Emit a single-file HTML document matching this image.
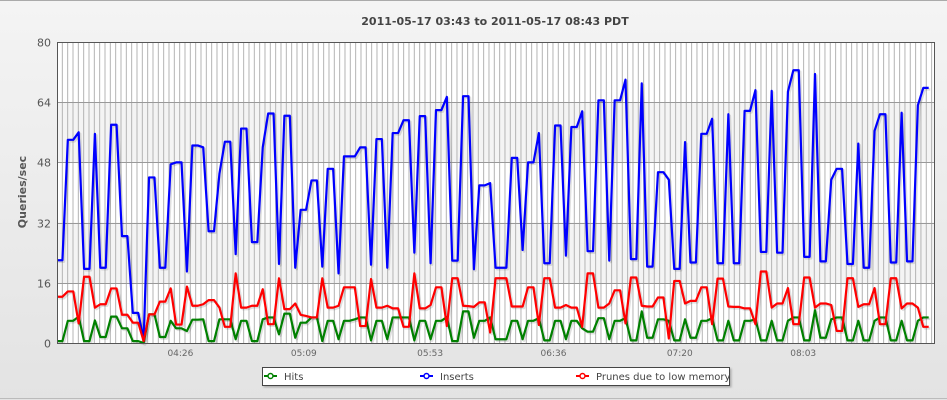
<!DOCTYPE html>
<html><head><meta charset="utf-8"><style>
html,body{margin:0;padding:0;}
body{width:947px;height:400px;overflow:hidden;background:linear-gradient(#f4f4f4,#e3e3e3);font-family:"DejaVu Sans","Liberation Sans",sans-serif;}
svg{position:absolute;left:0;top:0;}
</style></head><body>
<svg id="chart" width="947" height="400" xmlns="http://www.w3.org/2000/svg">
<defs><filter id="sh" x="-5%" y="-5%" width="110%" height="120%"><feDropShadow dx="1.5" dy="1.5" stdDeviation="1" flood-color="#000" flood-opacity="0.25"/></filter></defs>
<line x1="0" y1="0.5" x2="947" y2="0.5" stroke="#aaa"/>
<line x1="0" y1="398.5" x2="947" y2="398.5" stroke="#bbb"/>
<text x="495" y="25" text-anchor="middle" font-size="11" font-weight="bold" fill="#444">2011-05-17 03:43 to 2011-05-17 08:43 PDT</text>
<text transform="translate(26,192) rotate(-90)" text-anchor="middle" font-size="11" font-weight="bold" fill="#555">Queries/sec</text>
<g id="bands"></g><g id="vgrid"></g><g id="hgrid"></g><g id="ylabels"></g><g id="xlabels"></g><g id="series"></g>
<rect x="57.5" y="42.5" width="877" height="301" fill="none" stroke="#555"/>
<g>
<rect x="262.5" y="367.5" width="467" height="18" fill="#fff" stroke="#444" filter="url(#sh)"/>
<g><line x1="264" y1="376" x2="277" y2="376" stroke="#008000" stroke-width="2"/><circle cx="270.5" cy="376" r="2.5" fill="#fff" stroke="#008000" stroke-width="1.5"/><text x="284" y="380" font-size="10" fill="#444">Hits</text></g>
<g><line x1="420" y1="376" x2="433" y2="376" stroke="#0000ff" stroke-width="2"/><circle cx="426.5" cy="376" r="2.5" fill="#fff" stroke="#0000ff" stroke-width="1.5"/><text x="440" y="380" font-size="10" fill="#444">Inserts</text></g>
<g><line x1="576" y1="376" x2="589" y2="376" stroke="#ff0000" stroke-width="2"/><circle cx="582.5" cy="376" r="2.5" fill="#fff" stroke="#ff0000" stroke-width="1.5"/><text x="596" y="380" font-size="10" fill="#444">Prunes due to low memory</text></g>
</g>
</svg>
<script>
const yTicks=[0,16,32,48,64,80];
const xTickLabels=["04:26","05:09","05:53","06:36","07:20","08:03"];
const xTickMinutes=[43,86,130,173,217,260];
const inserts=[22,22,54,54,56,19.7,19.7,55.6,20,20,58,58,28.4,28.4,8,8,1,44,44,20,20,47.5,48,48,19,52.5,52.5,
52,29.7,29.7,45,53.5,53.5,23.6,57,57,26.8,26.8,52,61,61,21,60.4,60.4,20,35.4,35.4,43.2,43.2,20.3,46.3,46.3,18.5,49.6,49.6,
49.6,52,52,20.8,54.2,54.2,20,55.8,55.8,59.2,59.2,24,60.3,60.3,21.2,61.9,61.9,65.4,21.9,21.9,65.6,65.6,19.6,41.9,41.9,42.5,20,
20,20,49.2,49.2,24.7,48,48,55.8,21.2,21.2,57.8,57.8,23.2,57.4,57.4,61.6,24.4,24.4,64.5,64.5,21.9,64.5,64.5,70,22.3,22.3,69,
20.3,20.3,45.4,45.4,43.4,19.7,19.7,53.4,21.4,21.4,55.6,55.6,59.6,21.2,21.2,60.8,21.2,21.2,61.7,61.7,67.2,24.2,24.2,67,24,24,
66.8,72.5,72.5,22.9,22.9,71.5,21.7,21.7,43.4,46.3,46.3,21,21,53,20,20,56.4,60.8,60.8,21.4,21.4,61.2,21.7,21.7,63.2,67.8,67.8];
const prunes=[12.3,12.3,13.7,13.7,5.2,17.6,17.6,9.4,10.3,10.3,14.5,14.5,7.5,7.5,5.4,5.4,0.5,7.6,7.6,11,11,14.5,4.9,4.9,15,9.9,9.9,
10.3,11.4,11.4,9.4,4.3,4.3,18.5,9.4,9.4,9.9,9.9,14.3,5,5,17.2,9,9,10.5,7.5,7.2,6.8,6.8,17.2,9.4,9.4,9.9,14.8,14.8,
14.8,4.5,4.5,17,9.4,9.4,9.9,9.2,9.2,4.3,4.3,18.5,9.2,9.2,10.1,14.8,14.8,4.5,17.2,17.2,9.9,9.8,9.6,10.8,10.8,2.8,17.2,
17.2,17.2,9.7,9.7,9.7,14.8,14.8,4.8,17.2,17.2,9.4,9.4,10.1,9.4,9.4,4.3,18.5,18.5,9.4,9.4,10.5,14,14,5.2,17.4,17.4,9.9,
9.7,9.7,12.1,12.1,1.2,16.5,16.5,10.5,11.2,11.2,14.8,14.8,5,17.1,17.1,9.7,9.6,9.6,9.2,9.2,5,19,19,9.4,10.5,10.5,
14.6,5,5,17.4,17.4,9.4,10.5,10.5,10.1,3.2,3.2,17.2,17.2,9.6,10.3,10.3,14.6,5,5,17.2,17.2,9.2,10.5,10.5,9.4,4.3,4.3];
const hits=[0.5,0.5,5.9,5.9,7,0.5,0.5,6,1.6,1.6,7,7,3.9,3.9,0.5,0.5,0,7.6,7.6,1.6,1.6,5.9,3.9,3.9,3.2,6.2,6.2,
6.3,0.5,0.5,6.3,6.3,6.3,1,5.9,5.9,0.5,0.5,6.3,6.8,6.8,2.3,7.8,7.8,1.4,5.4,5.4,6.8,6.8,0.5,5.9,5.9,1,5.9,5.9,
6.3,6.8,6.8,0.7,5.9,5.9,1,6.8,6.8,6.8,6.8,0.7,5.9,5.9,1,5.9,5.9,6.9,0.5,0.5,8.4,8.4,1.4,5.9,5.9,6.8,1,
1,1,5.9,5.9,1,5.9,5.9,6.6,0.7,0.7,5.9,5.9,1,5.9,5.9,3.9,3,3,6.6,6.6,1,5.9,5.9,6.6,0.7,0.7,8.4,
1.4,1.4,6.3,6.3,5.9,0.7,0.7,6.3,1.4,1.4,5.9,5.9,6.6,0.7,0.7,5.9,0.7,0.7,5.9,5.9,6.3,0.7,0.7,5.9,0.7,0.7,
5.9,6.8,6.8,0.7,0.7,8.7,1.4,1.4,6.3,6.8,6.8,0.7,0.7,5.9,0.7,0.7,5.9,6.8,6.8,0.7,0.7,5.9,0.7,0.7,5.9,6.8,6.8];

const NS="http://www.w3.org/2000/svg";
const L=57,R=935,T=42,B=343;
const yMax=80;
function yScale(v){return B-(v/yMax)*(B-T);}
const lastX=928.7;
function xIndex(i,n){return L+(lastX-L)*i/(n-1);}
function xTime(m){return L+m*2.87;}
function mk(tag,attrs,parent){const e=document.createElementNS(NS,tag);for(const k in attrs)e.setAttribute(k,attrs[k]);parent.appendChild(e);return e;}

const bands=document.getElementById('bands');
for(let k=0;k<yTicks.length-1;k++){
  const r=mk('rect',{x:L,y:yScale(yTicks[k+1]),width:R-L,height:yScale(yTicks[k])-yScale(yTicks[k+1]),fill:(k%2===1)?'#f4f4f4':'#ffffff'},bands);
  
  
}
const vg=document.getElementById('vgrid');
for(let x=L+5.333;x<R;x+=5.333){
  const l=mk('line',{x1:x,y1:T,x2:x,y2:B,stroke:'#b4b4b4','stroke-width':1},vg);
  
  
}
const hg=document.getElementById('hgrid'),yl=document.getElementById('ylabels');
yTicks.forEach(v=>{
  const y=Math.round(yScale(v))+0.5;
  const l=mk('line',{x1:L,y1:y,x2:R,y2:y,stroke:'#999','stroke-width':1},hg);
  
  
  const t=mk('text',{x:51,y:y+4,'text-anchor':'end','font-size':11,fill:'#555'},yl);
  t.textContent=String(v);
  
  
});
const xl=document.getElementById('xlabels');
xTickLabels.forEach((s,i)=>{
  const t=mk('text',{x:xTime(xTickMinutes[i]),y:356,'text-anchor':'middle','font-size':9,fill:'#666'},xl);
  t.textContent=s;
  
  
});
const sg=document.getElementById('series');
function drawSeries(arr,color,name){
  const pts=arr.map((v,i)=>xIndex(i,arr.length).toFixed(2)+','+yScale(v).toFixed(2)).join(' ');
  const sh=mk('polyline',{points:pts,fill:'none',stroke:'rgba(0,0,0,0.12)','stroke-width':2.5,transform:'translate(1.5,1.5)','stroke-linejoin':'round'},sg);
  
  
  const p=mk('polyline',{points:pts,fill:'none',stroke:color,'stroke-width':2.2,'stroke-linejoin':'round'},sg);
  
  
}
drawSeries(hits,'#008000','hits-line');
drawSeries(inserts,'#0000ff','inserts-line');
drawSeries(prunes,'#ff0000','prunes-line');
</script>
</body></html>
